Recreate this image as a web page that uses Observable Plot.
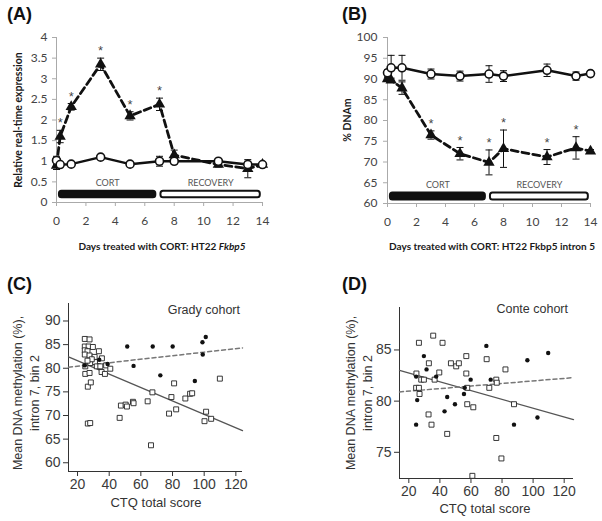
<!DOCTYPE html>
<html><head><meta charset="utf-8">
<script src="https://cdn.jsdelivr.net/npm/d3@7"></script>
<script src="https://cdn.jsdelivr.net/npm/@observablehq/plot@0.6"></script>
<style>
body{margin:0;background:#fff;}
#root{position:relative;width:602px;height:521px;overflow:hidden;background:#fff;}
.t{position:absolute;white-space:nowrap;line-height:1;}
.panel{font-family:"Liberation Sans",Arial,sans-serif;font-weight:bold;font-size:18px;color:#111;}
.xl{font-family:Lato,"Open Sans",sans-serif;font-weight:bold;font-size:10px;color:#1a1a1a;}
.rl{font-family:"Liberation Sans",Arial,sans-serif;font-size:12.5px;color:#333;}
</style></head><body><div id="root"></div>
<script>
// ---------- Data: panels A & B (time course) ----------
const days = [0, 0.25, 1, 3, 5, 7, 8, 11, 13, 14];
const aVehicle    = [1.02, 0.92, 0.93, 1.10, 0.93, 1.00, 1.00, 1.00, 0.92, 0.92];
const aVehicleErr = [0.10, 0.04, 0.04, 0.03, 0.03, 0.12, 0.06, 0.05, 0.08, 0.04];
const aCort       = [0.90, 1.60, 2.32, 3.35, 2.10, 2.38, 1.15, 0.92, 0.82, 0.92];
const aCortErr    = [0.10, 0.15, 0.08, 0.15, 0.10, 0.15, 0.12, 0.06, 0.22, 0.05];
const aSig        = [false, true, true, true, true, true, false, false, false, false];

const bVehicle    = [91.5, 92.7, 92.7, 91.2, 90.7, 91.2, 90.7, 92.1, 90.7, 91.3];
const bVehicleErr = [0.8, 3.0, 3.0, 1.2, 1.2, 2.0, 1.3, 1.5, 1.0, 0.7];
const bCort       = [90.0, 89.7, 87.8, 76.5, 72.0, 69.9, 73.2, 71.2, 73.4, 72.6];
const bCortErr    = [0.4, 0.5, 1.5, 1.0, 1.5, 3.0, 4.5, 1.8, 2.7, 0.4];
const bSig        = [false, false, false, true, true, true, true, true, true, false];

const phaseNames = ["CORT", "RECOVERY"];
const phaseStart = [0.2, 7.1];
const phaseEnd   = [6.75, 13.85];

const dayTicks = [0, 2, 4, 6, 8, 10, 12, 14];
const aTicks = [0, 0.5, 1, 1.5, 2, 2.5, 3, 3.5, 4];
const bTicks = [60, 65, 70, 75, 80, 85, 90, 95, 100];

// ---------- Data: panels C & D (CTQ vs methylation) ----------
const gradySquareX = [24.6,27.6,24.6,27,29.7,24.6,26.3,24.6,27.6,30.8,33.5,35.4,31,28,32.2,24.9,27.6,35.2,37.3,38.1,40.7,26.5,28.4,26.5,28,46.6,47.4,50.4,51.2,55,55.4,64.3,67.3,66.4,77.8,81,79.3,82.3,88.1,91.1,92.4,101.2,100.2,104.4,109.9,29,26.3,34.4,24.9];
const gradySquareY = [86.2,86.1,84.6,84.6,84.5,83.8,83.6,82.9,82.7,82.4,83.6,82.1,81.3,81.1,80.4,78.8,79,79.2,78.8,80.6,79.9,76.1,77,68.3,68.4,69.5,72.1,72.3,71.9,72.9,72.6,73,74.9,63.7,70.4,76.8,73.9,71.3,73.6,74.6,74.7,70.8,68.8,69.3,77.8,81.9,81.6,80.4,80.4];
const gradyDotX = [51.4,67.5,80.1,98.9,101,99.1,55.4,72.3,94.1,39,33.7,24.6];
const gradyDotY = [84.6,84.6,84.6,85.5,86.6,82.9,80.5,78.5,77.3,80.9,81.8,80.6];
const gradyFitSquares = {intercept: 84.43, slope: -0.142};
const gradyFitDots    = {intercept: 79.67, slope: 0.0373};

const conteSquareX = [26.5,35.7,41.7,24.9,24.7,26.5,26.9,28,29.7,32.9,36.6,39.6,47.1,50.5,52.2,57,57,57.6,57.6,61.5,32.7,34.6,44.7,70.1,71.8,76.3,76.6,82.2,87.7,76.3,79.6,60.9];
const conteSquareY = [85.7,86.4,85.7,82.7,81.3,81.3,80.7,82.1,82.1,83.7,82.1,82.8,83.7,83.4,83.7,84.4,82.7,81.3,79.7,79.4,78.7,77.7,76.8,84.1,81.3,82.1,81.8,83.1,79.7,76.4,74.4,72.7];
const conteDotX = [24.7,25.4,24.7,29.7,31.4,37.6,43,44.7,49.7,55.5,59.8,69.9,72.7,96.3,109.7,87.7,102.8,56];
const conteDotY = [82.4,80.1,77.7,84.4,83.1,82.4,79,80.4,79.7,80.7,82.1,85.4,82.1,84,84.7,77.7,78.4,81.3];
const conteFitSquares = {intercept: 83.6, slope: -0.04286};
const conteFitDots    = {intercept: 80.725, slope: 0.0125};

const ctqTicks = [20, 40, 60, 80, 100, 120];

// ---------- helpers ----------
const root = document.getElementById("root");
function place(el, left, top) {
  const wrap = document.createElement("div");
  wrap.style.position = "absolute"; wrap.style.left = left + "px"; wrap.style.top = top + "px";
  wrap.appendChild(el); root.appendChild(wrap);
}
function text(html, cls, x, y, mode) {
  const d = document.createElement("div");
  d.className = "t " + cls; d.innerHTML = html;
  d.style.left = x + "px"; d.style.top = y + "px";
  if (mode === "rot") d.style.transform = "translate(-50%,-50%) rotate(-90deg)";
  else if (mode === "center") d.style.transform = "translate(-50%,-50%)";
  else if (mode === "right") d.style.transform = "translate(-100%,-50%)";
  root.appendChild(d);
  return d;
}
const capSymbol = {draw(ctx) { ctx.moveTo(-3.5, 0); ctx.lineTo(3.5, 0); }};

function timePlot(o) {
  const rows = days.map((d, i) => ({day: d, veh: o.veh[i], vehErr: o.vehErr[i], cort: o.cort[i], cortErr: o.cortErr[i], sig: o.sig[i]}));
  const phases = phaseNames.map((n, i) => ({name: n, start: phaseStart[i], end: phaseEnd[i]}));
  const errMarks = (key, ekey) => [
    Plot.ruleX(rows, {x: "day", y1: d => d[key] - d[ekey], y2: d => d[key] + d[ekey], stroke: "#111", strokeWidth: 1}),
    Plot.dot(rows, {x: "day", y: d => d[key] + d[ekey], symbol: capSymbol, r: 3, fill: "none", stroke: "#111", strokeWidth: 1}),
    Plot.dot(rows, {x: "day", y: d => d[key] - d[ekey], symbol: capSymbol, r: 3, fill: "none", stroke: "#111", strokeWidth: 1})
  ];
  return Plot.plot({
    width: o.width, height: o.height,
    marginLeft: o.ml, marginRight: o.mr, marginTop: o.mt, marginBottom: o.mb,
    x: {domain: [0, 14]}, y: {domain: o.yDomain},
    style: {fontFamily: "Lato, 'Open Sans', sans-serif", fontSize: "12px", background: "transparent", color: "#444"},
    marks: [
      Plot.ruleY([o.yDomain[0]], {stroke: "#aaa"}),
      Plot.ruleX([0], {stroke: "#aaa"}),
      Plot.axisX({ticks: dayTicks, tickSize: 4, tickPadding: 10, stroke: "#aaa", fill: "#444", fontSize: 12, label: null, tickFormat: d => String(d)}),
      Plot.axisY({ticks: o.yTicks, tickSize: 4, tickPadding: o.tp, stroke: "#aaa", fill: "#444", fontSize: 12, label: null, tickFormat: d => String(d)}),
      Plot.rect(phases, {x1: "start", x2: "end", y1: o.barY[0], y2: o.barY[1], fill: (d, i) => i === 0 ? "#111" : "#fff", stroke: "#111", strokeWidth: 2, rx: 2.5}),
      Plot.text(phases, {x: d => (d.start + d.end) / 2, y: o.barY[1], text: "name", dy: -8, fontSize: 9, fill: "#555"}),
      ...errMarks("cort", "cortErr"),
      ...errMarks("veh", "vehErr"),
      Plot.line(rows, {x: "day", y: "cort", stroke: "#111", strokeWidth: 2.8, strokeDasharray: "7,4"}),
      Plot.line(rows, {x: "day", y: "veh", stroke: "#111", strokeWidth: 2.5}),
      Plot.dot(rows, {x: "day", y: "cort", symbol: "triangle", r: 4.2, fill: "#111", stroke: "none"}),
      Plot.dot(rows, {x: "day", y: "veh", r: 4, fill: "#fff", stroke: "#111", strokeWidth: 1.6}),
      Plot.text(rows.filter(d => d.sig), {x: "day", y: d => d.cort + d.cortErr, text: () => "*", dy: -7, fontSize: 13, fill: "black", fillOpacity: 0.75, fontFamily: "'Liberation Sans', Arial, sans-serif"})
    ]
  });
}

function scatterPlot(o) {
  const sq = o.sx.map((x, i) => ({x, y: o.sy[i]}));
  const dt = o.dx.map((x, i) => ({x, y: o.dy[i]}));
  const fit = f => [o.xDomain[0], o.xDomain[1]].map(x => ({x, y: f.intercept + f.slope * x}));
  return Plot.plot({
    width: o.width, height: o.height,
    marginLeft: o.ml, marginRight: o.mr, marginTop: o.mt, marginBottom: o.mb,
    x: {domain: o.xDomain}, y: {domain: o.yDomain},
    style: {fontFamily: "'Liberation Sans', Arial, sans-serif", fontSize: "14px", background: "transparent", color: "#333"},
    marks: [
      Plot.ruleX([o.xDomain[0]], {stroke: "#333", strokeWidth: 1}),
      Plot.ruleY([o.yDomain[0]], {stroke: "#333", strokeWidth: 1}),
      Plot.axisX({ticks: ctqTicks, tickSize: 5, tickPadding: 3, stroke: "#333", fill: "#3a3a3a", fontSize: 14, label: null, tickFormat: d => String(d)}),
      Plot.axisY({ticks: o.yTicks, tickSize: 5, tickPadding: 3, stroke: "#333", fill: "#3a3a3a", fontSize: 14, label: null, tickFormat: d => String(d)}),
      Plot.line(fit(o.fitSq), {x: "x", y: "y", stroke: "#555", strokeWidth: 1.3}),
      Plot.line(fit(o.fitDot), {x: "x", y: "y", stroke: "#777", strokeWidth: 1.5, strokeDasharray: "4,3"}),
      Plot.dot(sq, {x: "x", y: "y", symbol: "square", r: 2.8, fill: "#fff", stroke: "#222", strokeWidth: 0.9}),
      Plot.dot(dt, {x: "x", y: "y", r: 2.2, fill: "#111", stroke: "none"})
    ]
  });
}

// ---------- Panel A ----------
place(timePlot({veh: aVehicle, vehErr: aVehicleErr, cort: aCort, cortErr: aCortErr, sig: aSig,
  width: 300, height: 260, ml: 56, mr: 38, mt: 37, mb: 58, yDomain: [0, 4], yTicks: aTicks, tp: 5,
  barY: [0.115, 0.27]}), 0, 0);
// ---------- Panel B ----------
place(timePlot({veh: bVehicle, vehErr: bVehicleErr, cort: bCort, cortErr: bCortErr, sig: bSig,
  width: 302, height: 260, ml: 87, mr: 12, mt: 37, mb: 57, yDomain: [60, 100], yTicks: bTicks, tp: 6,
  barY: [60.85, 62.55]}), 300, 0);
// ---------- Panel C ----------
place(scatterPlot({sx: gradySquareX, sy: gradySquareY, dx: gradyDotX, dy: gradyDotY,
  fitSq: gradyFitSquares, fitDot: gradyFitDots,
  width: 300, height: 261, ml: 68, mr: 58, mt: 43, mb: 50,
  xDomain: [14.3, 124.2], yDomain: [58.15, 93.7], yTicks: [60, 65, 70, 75, 80, 85, 90]}), 0, 260);
// ---------- Panel D ----------
place(scatterPlot({sx: conteSquareX, sy: conteSquareY, dx: conteDotX, dy: conteDotY,
  fitSq: conteFitSquares, fitDot: conteFitDots,
  width: 302, height: 261, ml: 99, mr: 29, mt: 47, mb: 43,
  xDomain: [14, 126], yDomain: [72.44, 89.15], yTicks: [75, 80, 85]}), 300, 260);

// ---------- Titles and axis labels ----------
text("(A)", "panel", 7, 5);
text("(B)", "panel", 342, 5);
text("(C)", "panel", 7, 275);
text("(D)", "panel", 342, 275);

text("Relative real-time expression", "xl", 18, 120, "rot").style.fontSize = "10.5px";
text("Days treated with CORT: HT22 <i>Fkbp5</i>", "xl", 162, 246, "center");
text("% DNAm", "xl", 347, 120, "rot").style.fontSize = "10.5px";
text("Days treated with CORT: HT22 Fkbp5 intron 5", "xl", 492, 246, "center");

const cy = text("Mean DNA methylation (%),<br>intron 7, bin 2", "rl", 26.5, 393, "rot");
cy.style.textAlign = "center"; cy.style.lineHeight = "17px"; cy.style.fontSize = "12.5px";
text("Grady cohort", "rl", 240, 310, "right");
text("CTQ total score", "rl", 156, 502, "center").style.fontSize = "13px";

const dy = text("Mean DNA methylation (%),<br>intron 7, bin 2", "rl", 360, 393, "rot");
dy.style.textAlign = "center"; dy.style.lineHeight = "17px"; dy.style.fontSize = "12.5px";
text("Conte cohort", "rl", 568, 309, "right");
text("CTQ total score", "rl", 485, 508, "center").style.fontSize = "13px";
</script></body></html>
